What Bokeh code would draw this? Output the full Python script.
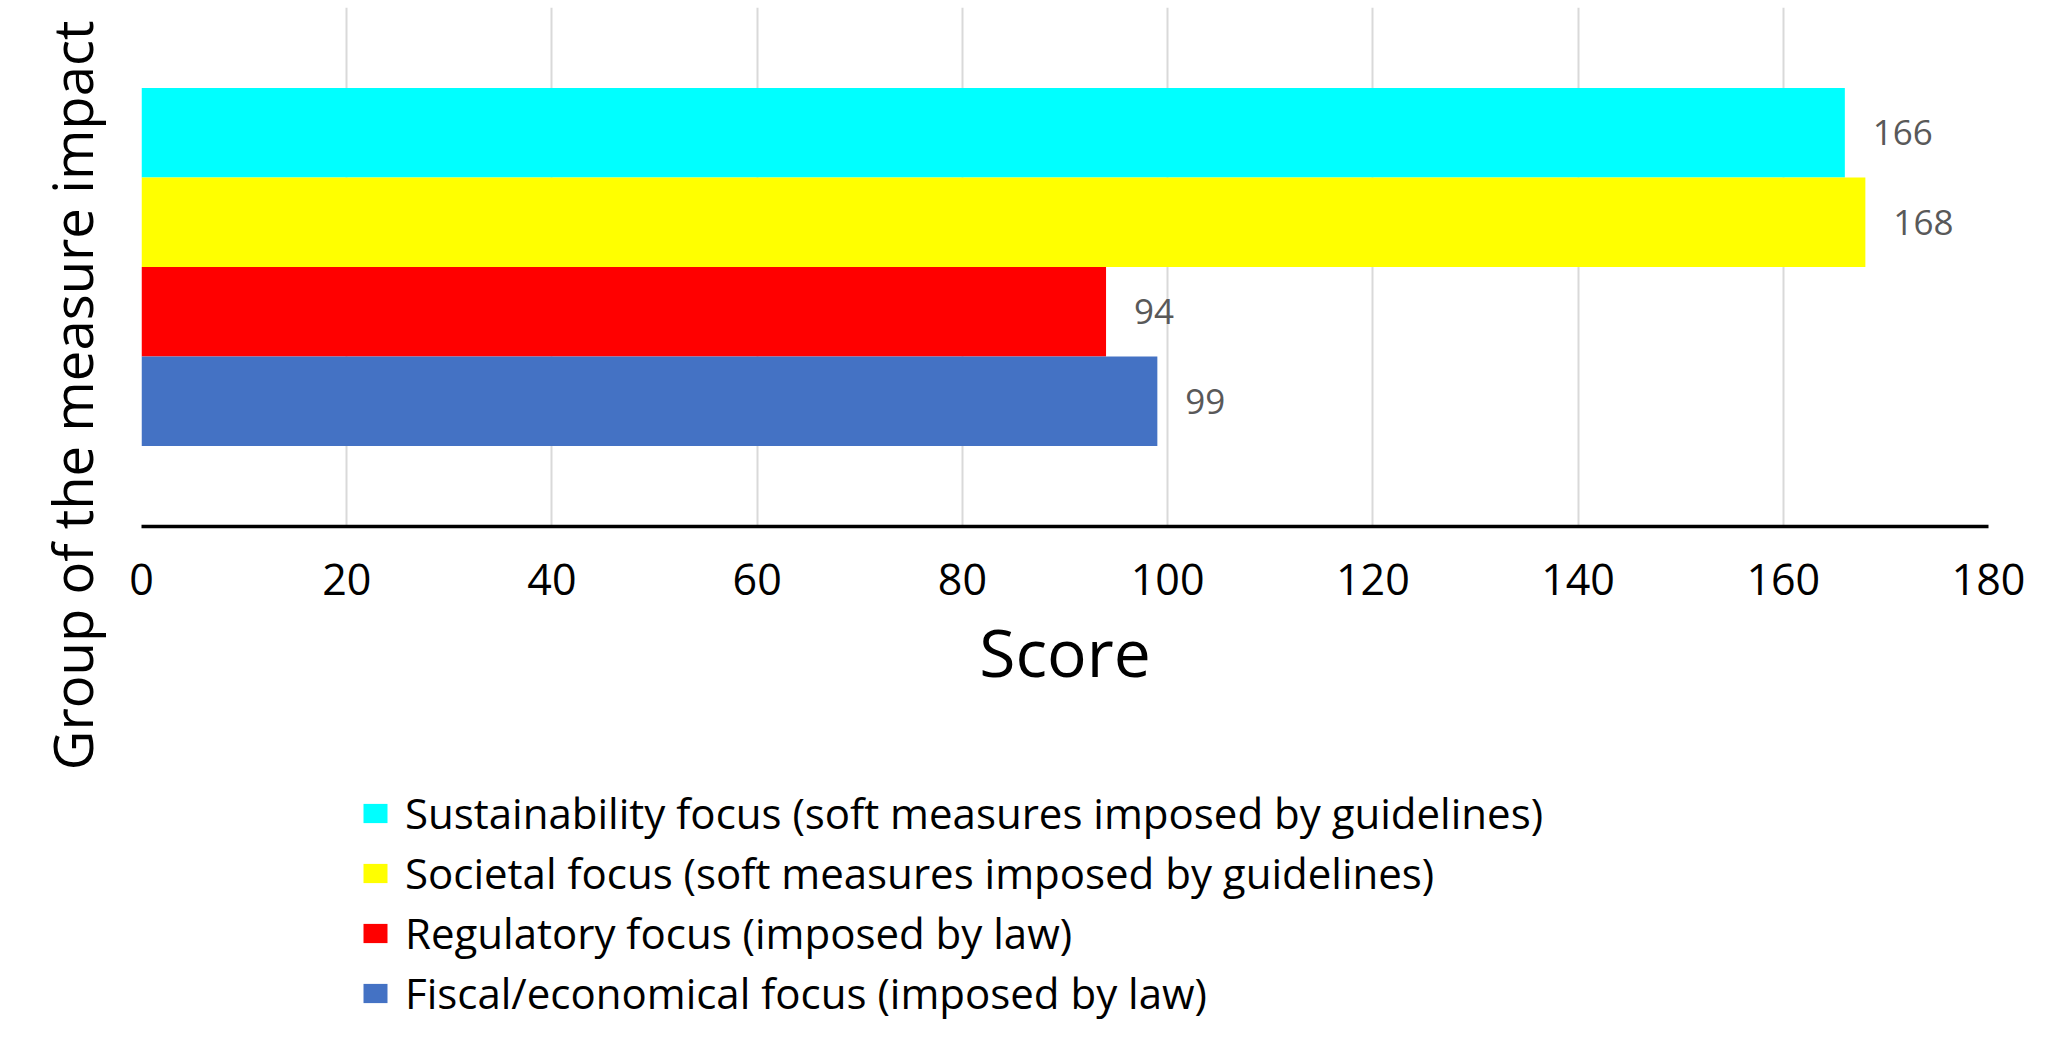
from bokeh.plotting import figure
from bokeh.layouts import column
from bokeh.models import (Range1d, FactorRange, FixedTicker, Legend, LegendItem,
                          Title, ColumnDataSource)
from bokeh.transform import dodge
from bokeh.core.properties import value
from bokeh.embed import file_html
from bokeh.resources import INLINE

# ---- data ----
series_names = [
    "Sustainability focus (soft measures imposed by guidelines)",
    "Societal focus (soft measures imposed by guidelines)",
    "Regulatory focus (imposed by law)",
    "Fiscal/economical focus (imposed by law)",
]
series_values = [166, 168, 94, 99]
series_colors = ["#00FFFF", "#FFFF00", "#FF0000", "#4472C4"]
x_ticks = [0, 20, 40, 60, 80, 100, 120, 140, 160, 180]
group = ["Group"]
x_title = "Score"
y_title = "Group of the measure impact"

FONT = "Open Sans"
BAR_H = 0.1725
W = 2033
H1 = 778
H2 = 244

p = figure(width=W, height=H1, output_backend="svg", toolbar_location=None,
           x_range=Range1d(0, 180), y_range=FactorRange(factors=group, range_padding=0),
           min_border_left=141, min_border_right=45, min_border_top=7,
           min_border_bottom=H1 - 526)

p.outline_line_color = None
p.background_fill_color = "white"
p.border_fill_color = "white"

p.yaxis.visible = False
p.ygrid.grid_line_color = None

p.xaxis.ticker = FixedTicker(ticks=x_ticks)
p.xaxis.major_label_overrides = {t: str(t) for t in x_ticks}
p.xaxis.axis_line_color = "black"
p.xaxis.axis_line_width = 3.5
p.xaxis.major_tick_line_color = None
p.xaxis.minor_tick_line_color = None
p.xaxis.major_tick_out = 0
p.xaxis.major_tick_in = 0
p.xaxis.minor_tick_out = 0
p.xaxis.major_label_text_font = FONT
p.xaxis.major_label_text_font_size = "43px"
p.xaxis.major_label_text_color = "black"
p.xaxis.major_label_standoff = 37
p.xaxis.axis_label = x_title
p.xaxis.axis_label_text_font = FONT
p.xaxis.axis_label_text_font_size = "66px"
p.xaxis.axis_label_text_font_style = "normal"
p.xaxis.axis_label_text_color = "black"
p.xaxis.axis_label_standoff = 8

p.xgrid.grid_line_color = "#d9d9d9"
p.xgrid.grid_line_width = 2

# legend figure (its frame is aligned with the chart's frame by the column layout)
p2 = figure(width=W, height=H2, output_backend="svg", toolbar_location=None,
            x_range=Range1d(0, 1), y_range=Range1d(0, 1),
            min_border_left=0, min_border_right=0, min_border_top=0, min_border_bottom=0)
p2.axis.visible = False
p2.xgrid.grid_line_color = None
p2.ygrid.grid_line_color = None
p2.xgrid.visible = False
p2.ygrid.visible = False
p2.outline_line_color = None
p2.background_fill_color = "white"
p2.border_fill_color = "white"

items = []
for i, (name, val, col) in enumerate(zip(series_names, series_values, series_colors)):
    off = (1.5 - i) * BAR_H
    src = ColumnDataSource(dict(cat=group, val=[val], lab=[str(val)]))
    p.hbar(y=dodge("cat", off, range=p.y_range), right="val", left=0, height=BAR_H,
           source=src, fill_color=col, line_color=None)
    p.text(x="val", y=dodge("cat", off, range=p.y_range), text="lab", source=src,
           x_offset=28, text_align="left", text_baseline="middle",
           text_font=value(FONT), text_font_size="35px", text_color="#595959")
    # proxy bar outside the visible range, only used for the legend swatch
    r2 = p2.hbar(y=[-5], right=[0.5], left=0.2, height=0.1, fill_color=col, line_color=None)
    items.append(LegendItem(label=name, renderers=[r2]))

legend = Legend(items=items, location=(219, 1), orientation="vertical",
                margin=0, padding=0, border_line_color=None, background_fill_alpha=0,
                glyph_width=30, glyph_height=24, label_height=30, spacing=3,
                label_standoff=15, label_text_font=FONT, label_text_font_size="42px",
                label_text_color="black")
p2.add_layout(legend, "center")

ytitle = Title(text=y_title, align="right", offset=13, vertical_align="top",
               standoff=62, text_font=FONT, text_font_size="54.5px",
               text_font_style="normal", text_color="black")
p.add_layout(ytitle, "left")

layout = column(p, p2, spacing=0)
open("out.html", "w").write(file_html(layout, INLINE))
